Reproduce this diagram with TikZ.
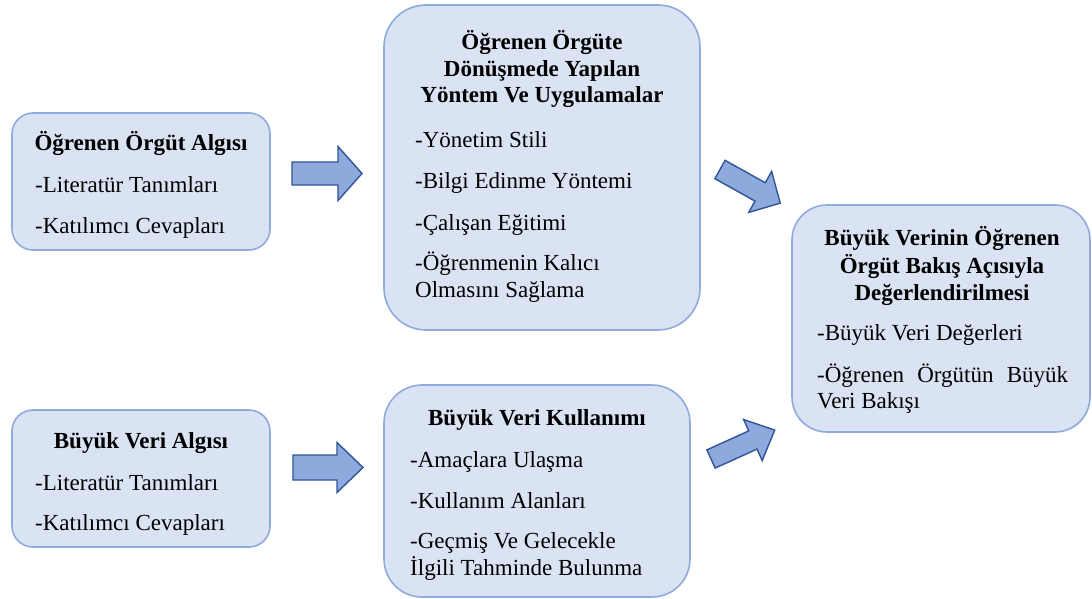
\documentclass[tikz,border=0pt]{standalone}
\usepackage{fontspec}
\setmainfont{Liberation Serif}
\definecolor{boxfill}{HTML}{DAE3F3}
\definecolor{boxline}{HTML}{8FAADC}
\definecolor{arrowfill}{HTML}{8EA9DB}
\definecolor{arrowline}{HTML}{2F5597}
\tikzset{
  panel/.style={draw=boxline, line width=1.6pt, fill=boxfill, rounded corners=#1, inner sep=0pt},
  head/.style={font=\fontsize{23}{27}\selectfont\bfseries, anchor=base, inner sep=0pt},
  item/.style={anchor=base west, inner sep=0pt},
  blockarrow/.style={draw=arrowline, fill=arrowfill, line width=1.4pt, line join=miter}
}
% block arrow: tail centre (x,y), angle, length, shaft width, head width, head length
\newcommand\blkarrow[8]{%
  \begin{scope}[shift={(#2,#3)}, rotate=#4]
    \draw[blockarrow] (0,{-#6/2}) -- ({#5-#8},{-#6/2}) -- ({#5-#8},{-#7/2})
      -- (#5,0) -- ({#5-#8},{#7/2}) -- ({#5-#8},{#6/2}) -- (0,{#6/2}) -- cycle;
    \coordinate (#1) at (#5,0);
  \end{scope}}
\begin{document}
\begin{tikzpicture}[x=1pt, y=-1pt, font=\fontsize{23}{27}\selectfont]
  \fill[white] (0,0) rectangle (1092,599);
  \useasboundingbox (0,0) rectangle (1092,599);

  % boxes
  \node[panel=21pt, minimum width=258pt, minimum height=137pt] (orgalgi) at (141,181.5) {};
  \node[panel=21pt, minimum width=258pt, minimum height=137pt] (veralgi) at (141,478.5) {};
  \node[panel=42pt, minimum width=316pt, minimum height=325pt] (yontem) at (542,167.5) {};
  \node[panel=38pt, minimum width=306pt, minimum height=212pt] (kullanim) at (537,491) {};
  \node[panel=35pt, minimum width=298pt, minimum height=227pt] (deger) at (941,318.5) {};

  % arrows
  \blkarrow{a1}{292}{173.5}{0}{70}{23}{54}{24}
  \blkarrow{a2}{293}{467.5}{0}{70}{25}{50}{26}
  \blkarrow{a3}{720}{169.5}{-29.2}{69}{21}{47}{23}
  \blkarrow{a4}{711}{459}{24.4}{70}{20}{45}{24}

  % Öğrenen Örgüt Algısı
  \node[head] (t1) at (141,150) {Öğrenen Örgüt Algısı};
  \node[item] (t1a) at (35,192) {-Literatür Tanımları};
  \node[item] (t1b) at (35,233) {-Katılımcı Cevapları};

  % Büyük Veri Algısı
  \node[head] (t2) at (141,448) {Büyük Veri Algısı};
  \node[item] (t2a) at (35,490) {-Literatür Tanımları};
  \node[item] (t2b) at (35,530) {-Katılımcı Cevapları};

  % Öğrenen örgüte dönüşüm
  \node[head] (t3) at (542,50) {Öğrenen Örgüte};
  \node[head] (t3l2) at (542,77) {Dönüşmede Yapılan};
  \node[head] (t3l3) at (542,103) {Yöntem Ve Uygulamalar};
  \node[item] (t3a) at (415,147) {-Yönetim Stili};
  \node[item] (t3b) at (415,188) {-Bilgi Edinme Yöntemi};
  \node[item] (t3c) at (415,230) {-Çalışan Eğitimi};
  \node[item] (t3d) at (415,270) {-Öğrenmenin Kalıcı};
  \node[item] (t3e) at (415,297) {Olmasını Sağlama};

  % Büyük Veri Kullanımı
  \node[head] (t4) at (537,425) {Büyük Veri Kullanımı};
  \node[item] (t4a) at (410,467) {-Amaçlara Ulaşma};
  \node[item] (t4b) at (410,508) {-Kullanım Alanları};
  \node[item] (t4c) at (410,548) {-Geçmiş Ve Gelecekle};
  \node[item] (t4d) at (410,575) {İlgili Tahminde Bulunma};

  % Değerlendirme
  \node[head] (t5) at (942,245) {Büyük Verinin Öğrenen};
  \node[head] (t5l2) at (942,273) {Örgüt Bakış Açısıyla};
  \node[head] (t5l3) at (942,300) {Değerlendirilmesi};
  \node[item] (t5a) at (817,340) {-Büyük Veri Değerleri};
  \node[item] (t5b) at (817,382) {\hbox to 251pt{-Öğrenen\hfil Örgütün\hfil Büyük}};
  \node[item] (t5c) at (817,408) {Veri Bakışı};
\end{tikzpicture}
\end{document}
